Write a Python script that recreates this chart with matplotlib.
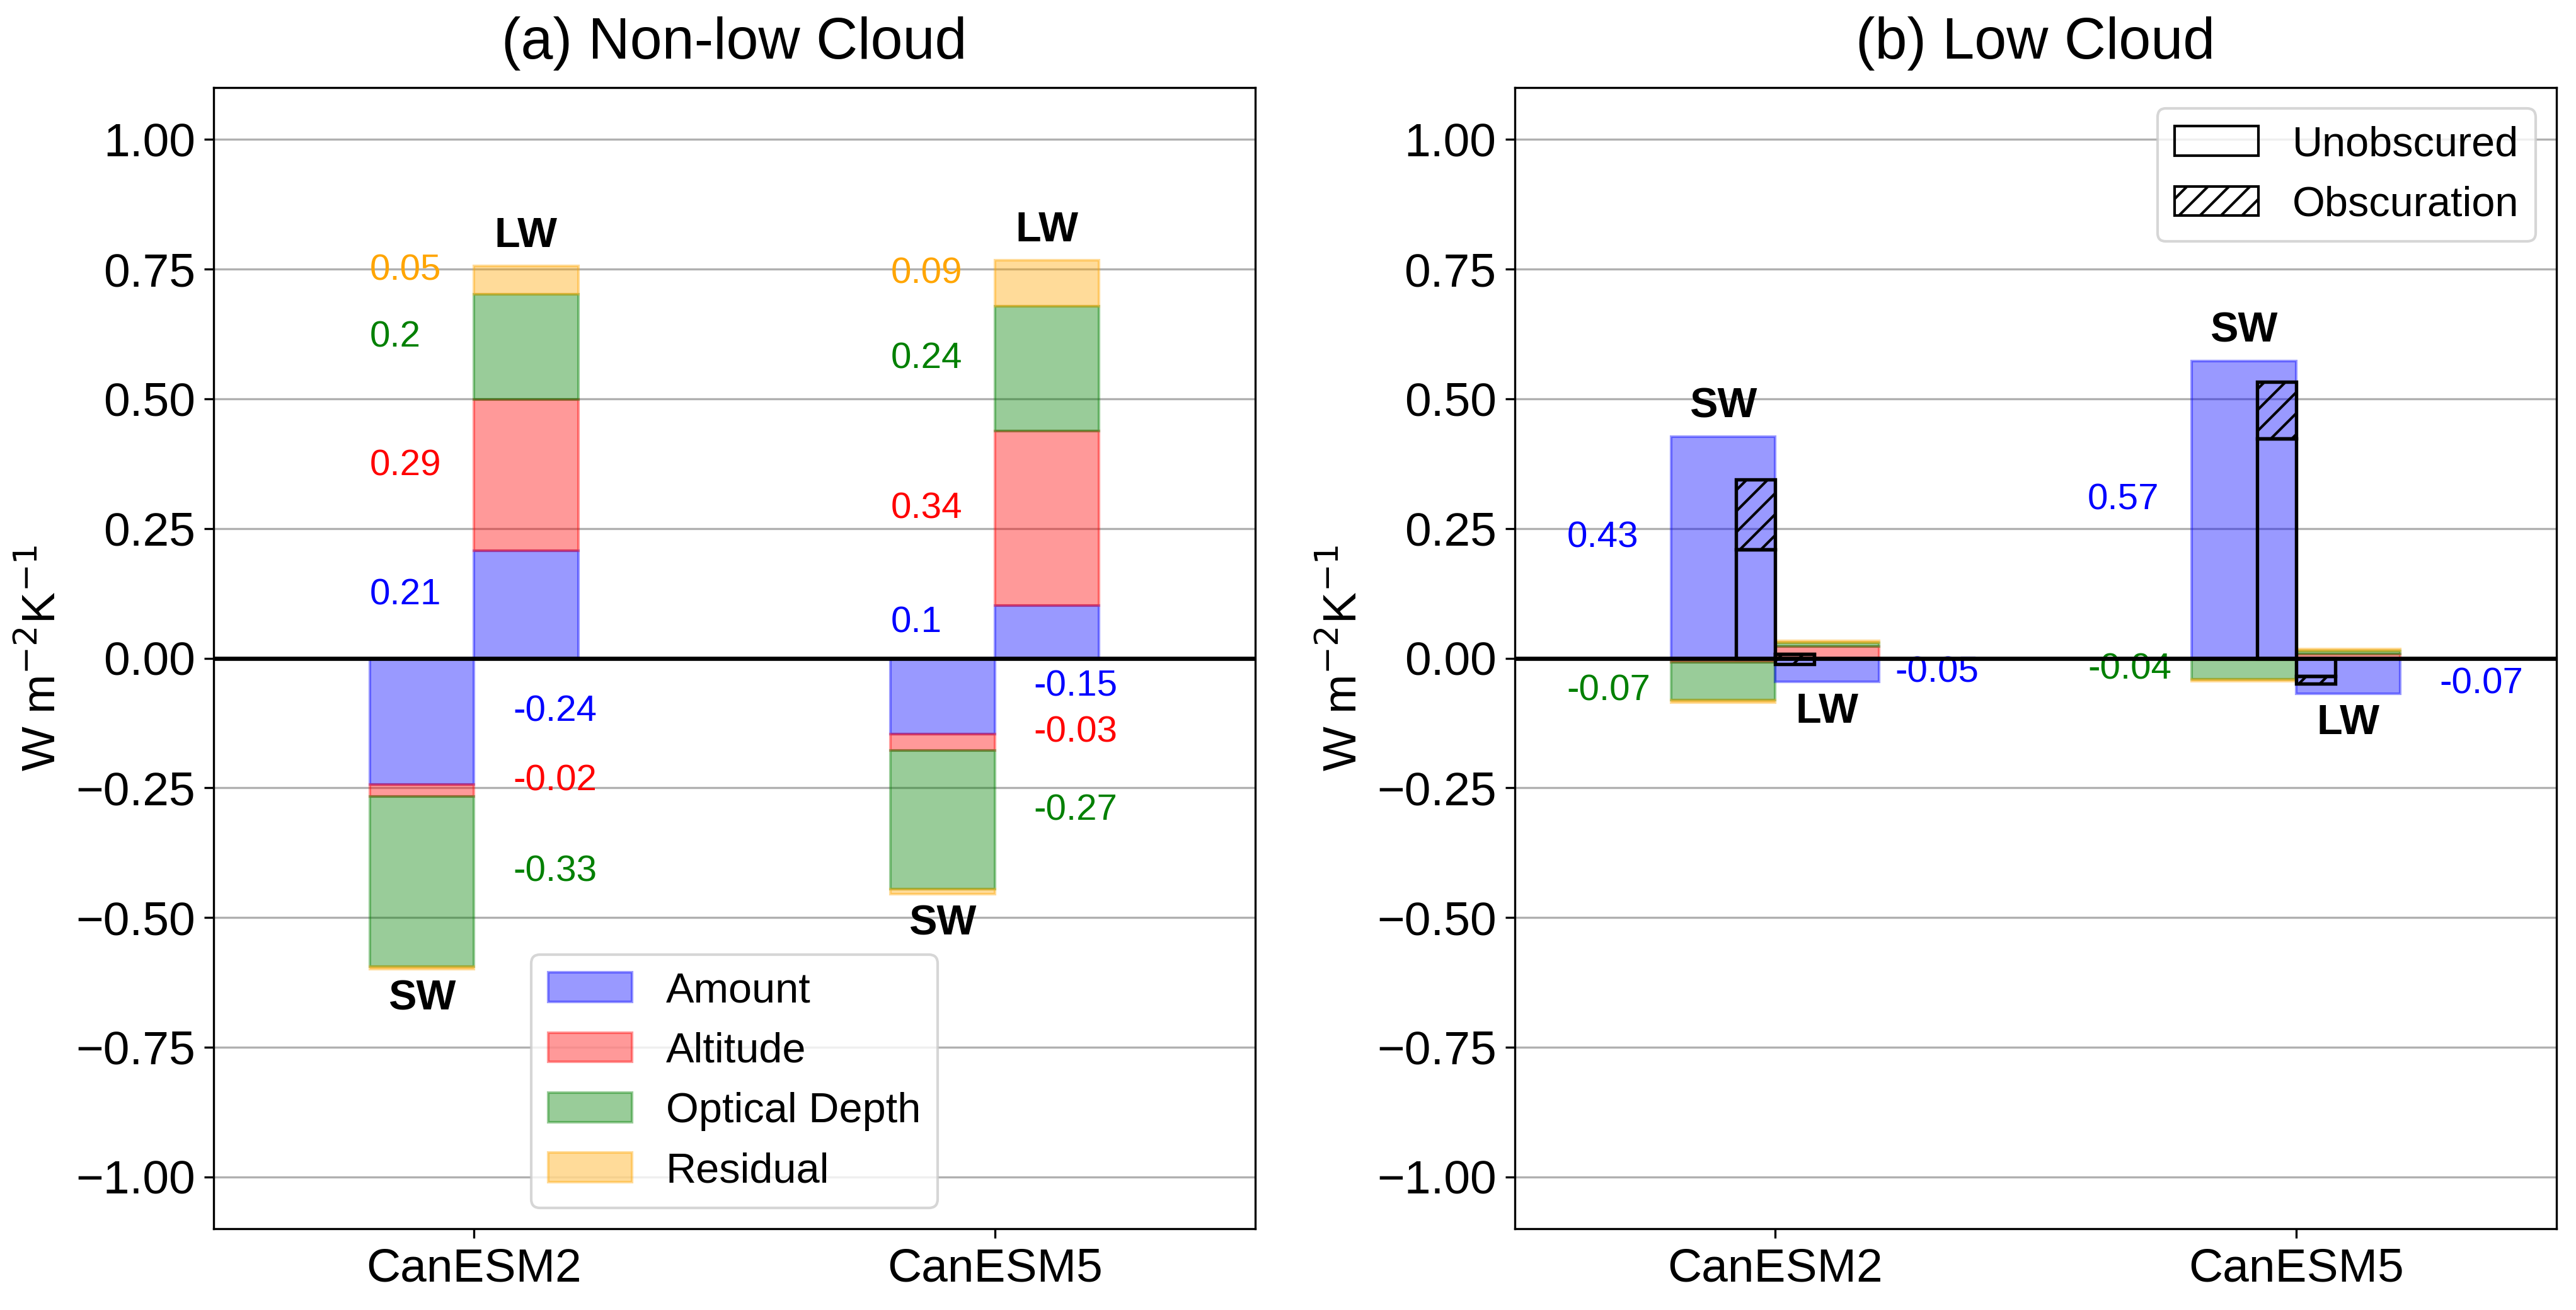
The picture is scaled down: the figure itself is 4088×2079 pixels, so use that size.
import matplotlib
matplotlib.use("Agg")
import matplotlib.pyplot as plt
import numpy as np
from matplotlib.patches import Patch

plt.rcParams['font.family'] = ['Liberation Sans', 'DejaVu Sans']

models = ["CanESM2", "CanESM5"]
components = ["Amount", "Altitude", "Optical Depth", "Residual"]
colors = ["blue", "red", "green", "orange"]

# non-low cloud feedback components, one row per model
nonlow_sw = np.array([[-0.243, -0.024, -0.327, -0.005],
                      [-0.146, -0.032, -0.267, -0.010]])
nonlow_lw = np.array([[0.207, 0.292, 0.203, 0.054],
                      [0.101, 0.337, 0.241, 0.088]])

# low cloud feedback components
low_sw = np.array([[0.427, -0.008, -0.073, -0.004],
                   [0.573, -0.003, -0.037, -0.004]])
low_lw = np.array([[-0.046, 0.022, 0.008, 0.004],
                   [-0.068, 0.008, 0.006, 0.004]])

# low cloud amount split into unobscured / obscuration
unobscured_sw = [0.21, 0.424]
obscuration_sw = [0.135, 0.109]
unobscured_lw = [0.008, -0.034]
obscuration_lw = [-0.020, -0.015]

x = np.arange(len(models))
width = 0.2


def stack(ax, xpos, vals):
    """Draw stacked bar, positives up and negatives down."""
    pos, neg = 0.0, 0.0
    segs = []
    for j, v in enumerate(vals):
        b = pos if v >= 0 else neg
        ax.bar(xpos, v, width, bottom=b, color=colors[j], alpha=0.4,
               edgecolor=colors[j], linewidth=1, zorder=2)
        segs.append((b, b + v))
        if v >= 0:
            pos += v
        else:
            neg += v
    return segs, pos, neg


fig, axes = plt.subplots(1, 2, figsize=(4088 / 300, 2079 / 300), dpi=300)
fig.subplots_adjust(left=0.0829, right=0.9924, bottom=0.062, top=0.9331,
                    wspace=0.249)

# (a) Non-low cloud
ax = axes[0]
for i in range(len(models)):
    segs, pos, neg = stack(ax, x[i] - 0.1, nonlow_sw[i])
    for j, (b, t) in enumerate(segs):
        v = nonlow_sw[i, j]
        if abs(v) >= 0.015:
            ax.text(x[i] + 0.075, (b + t) / 2, f"{round(v, 2)}",
                    color=colors[j], fontsize=14, ha='left')
    ax.text(x[i] - 0.1, neg - 0.02, "SW", fontsize=16, fontweight='bold',
            ha='center', va='top')

    segs, pos, neg = stack(ax, x[i] + 0.1, nonlow_lw[i])
    for j, (b, t) in enumerate(segs):
        v = nonlow_lw[i, j]
        if abs(v) >= 0.015:
            ax.text(x[i] - 0.2, (b + t) / 2, f"{round(v, 2)}",
                    color=colors[j], fontsize=14, ha='left')
    ax.text(x[i] + 0.1, pos + 0.02, "LW", fontsize=16, fontweight='bold',
            ha='center', va='bottom')

handles = [Patch(facecolor=c, edgecolor=c, alpha=0.4, label=n)
           for c, n in zip(colors, components)]
ax.legend(handles=handles, loc='lower center', fontsize=16)
ax.set_title("(a) Non-low Cloud", fontsize=22, pad=11)

# (b) Low cloud
ax = axes[1]
lw_dx = [0.23, 0.275]
for i in range(len(models)):
    segs, pos, neg = stack(ax, x[i] - 0.1, low_sw[i])
    for j, (b, t) in enumerate(segs):
        v = low_sw[i, j]
        if abs(v) >= 0.035:
            y = (b + t) / 2 if v > 0 else t
            ax.text(x[i] - 0.4, y, f"{round(v, 2)}", color=colors[j],
                    fontsize=14, ha='left')
    ax.text(x[i] - 0.1, pos + 0.02, "SW", fontsize=16, fontweight='bold',
            ha='center', va='bottom')

    segs, pos, neg = stack(ax, x[i] + 0.1, low_lw[i])
    for j, (b, t) in enumerate(segs):
        v = low_lw[i, j]
        if abs(v) >= 0.035:
            y = (b + t) / 2 if v > 0 else t
            ax.text(x[i] + lw_dx[i], y, f"{round(v, 2)}", color=colors[j],
                    fontsize=14, ha='left')
    ax.text(x[i] + 0.1, neg - 0.02, "LW", fontsize=16, fontweight='bold',
            ha='center', va='top')

    # unobscured / obscuration split of the amount term
    ax.bar(x[i] - 0.0375, unobscured_sw[i], 0.075, facecolor='none',
           edgecolor='black', linewidth=1.3, zorder=3)
    ax.bar(x[i] - 0.0375, obscuration_sw[i], 0.075, bottom=unobscured_sw[i],
           facecolor='none', edgecolor='black', hatch='///', linewidth=1.3,
           zorder=3)
    ax.bar(x[i] + 0.0375, unobscured_lw[i], 0.075, facecolor='none',
           edgecolor='black', linewidth=1.3, zorder=3)
    ax.bar(x[i] + 0.0375, obscuration_lw[i], 0.075, bottom=unobscured_lw[i],
           facecolor='none', edgecolor='black', hatch='///', linewidth=1.3,
           zorder=3)

handles = [Patch(facecolor='none', edgecolor='black', label='Unobscured'),
           Patch(facecolor='none', edgecolor='black', hatch='///',
                 label='Obscuration')]
ax.legend(handles=handles, loc='upper right', fontsize=16)
ax.set_title("(b) Low Cloud", fontsize=22, pad=11)

for ax in axes:
    ax.axhline(0, color='black', linewidth=1.6, zorder=4)
    ax.set_xlim(-0.5, 1.5)
    ax.set_ylim(-1.1, 1.1)
    ax.set_yticks(np.arange(-1, 1.01, 0.25))
    ax.set_xticks(x)
    ax.set_xticklabels(models)
    ax.tick_params(labelsize=18)
    ax.yaxis.grid(True, zorder=0)
    ax.set_axisbelow(True)
    ax.set_ylabel("W m$^{-2}$K$^{-1}$", fontsize=18)

plt.savefig("out.png", dpi=300)
